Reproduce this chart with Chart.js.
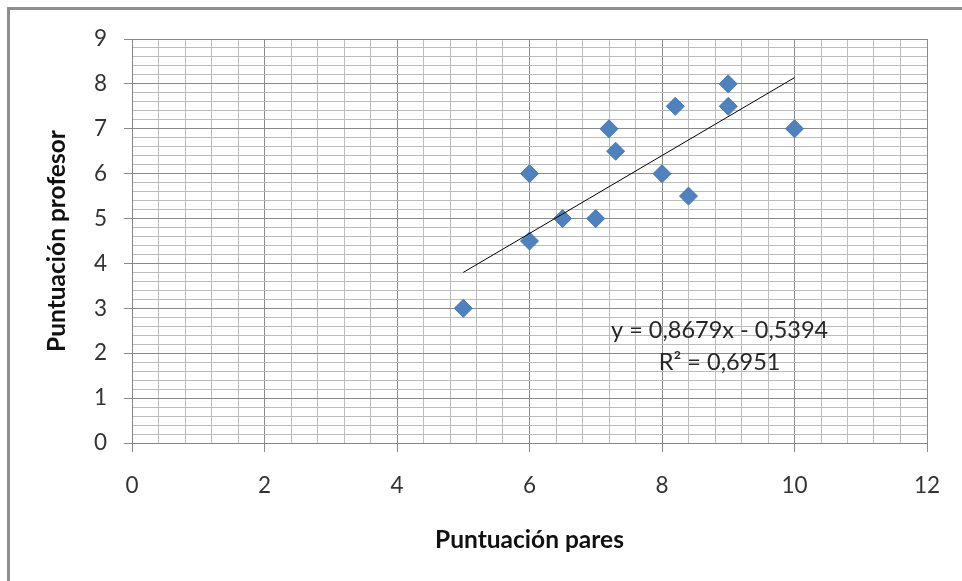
<!DOCTYPE html>
<html lang="es">
<head>
  <meta charset="UTF-8">
  <title>Puntuación profesor vs pares</title>
  <script src="https://cdn.jsdelivr.net/npm/chart.js"></script>
  <style>
    html, body { margin: 0; padding: 0; background: #fff; }
    .chart-box { position: relative; width: 962px; height: 581px; }
    .frame {
      position: absolute; left: 7px; top: 7px; right: 0; bottom: 0;
      border-top: 3px solid #8e8e8e; border-left: 3px solid #8e8e8e;
      pointer-events: none;
    }
  </style>
</head>
<body>
  <div class="chart-box">
    <canvas id="scatterChart"></canvas>
    <div class="frame"></div>
  </div>

  <script>
    // Data
    const paresScores = [5, 6, 6, 6.5, 7, 7.2, 7.3, 8, 8.2, 8.4, 9, 9, 10];
    const profesorScores = [3, 6, 4.5, 5, 5, 7, 6.5, 6, 7.5, 5.5, 8, 7.5, 7];

    // Trend line from the equation printed on the chart
    const trendSlope = 0.8679;
    const trendIntercept = -0.5394;
    const trendRange = [5, 10];
    const trendLabels = ['y = 0,8679x - 0,5394', 'R\u00b2 = 0,6951'];

    const xTicks = { min: 0, max: 12, minor: 0.4, major: 2 };
    const yTicks = { min: 0, max: 9, minor: 0.2, major: 1 };

    const points = paresScores.map((x, i) => ({ x: x, y: profesorScores[i] }));
    const trendPoints = trendRange.map(x => ({ x: x, y: trendSlope * x + trendIntercept }));

    const isMajor = (v, step) => Math.abs(v / step - Math.round(v / step)) < 1e-6;

    const fontFamily = 'Lato, "Open Sans", sans-serif';

    // Draws the equation text inside the plot
    const equationPlugin = {
      id: 'equation',
      afterDatasetsDraw(chart) {
        const { ctx, scales } = chart;
        const cx = scales.x.getPixelForValue(8.87);
        const cy = scales.y.getPixelForValue(2.5);
        ctx.save();
        ctx.font = '23.5px ' + fontFamily;
        ctx.fillStyle = '#262626';
        ctx.textAlign = 'center';
        ctx.textBaseline = 'middle';
        ctx.fillText(trendLabels[0], cx, cy);
        ctx.fillText(trendLabels[1], cx, cy + 32);
        ctx.restore();
      }
    };

    const config = {
      type: 'scatter',
      data: {
        datasets: [
          {
            type: 'line',
            label: 'Tendencia',
            data: trendPoints,
            borderColor: '#000',
            borderWidth: 1,
            pointRadius: 0,
            fill: false,
            order: 0
          },
          {
            label: 'Puntuación',
            data: points,
            pointStyle: 'rectRot',
            pointRadius: 9,
            pointHoverRadius: 9,
            backgroundColor: '#4F81BD',
            borderColor: '#4677b3',
            borderWidth: 1,
            order: 1
          }
        ]
      },
      options: {
        responsive: true,
        maintainAspectRatio: false,
        animation: false,
        layout: { padding: { top: 39, right: 35, left: 0, bottom: 0 } },
        plugins: {
          legend: { display: false },
          tooltip: { enabled: false }
        },
        scales: {
          x: {
            type: 'linear',
            min: xTicks.min,
            max: xTicks.max,
            afterFit: scale => { scale.height = 138; },
            border: { color: '#858585', width: 1 },
            grid: {
              color: ctx => isMajor(ctx.tick.value, xTicks.major) ? '#8a8a8a' : '#bcbcbc',
              tickColor: ctx => isMajor(ctx.tick.value, xTicks.major) ? '#8a8a8a' : 'rgba(0,0,0,0)',
              tickLength: 9
            },
            ticks: {
              stepSize: xTicks.minor,
              maxTicksLimit: 200,
              autoSkip: false,
              maxRotation: 0,
              padding: 20,
              color: '#333',
              font: { family: fontFamily, size: 22.5 },
              callback: v => isMajor(v, xTicks.major) ? String(Math.round(v)) : ''
            },
            title: {
              display: true,
              text: 'Puntuación pares',
              color: '#111',
              font: { family: fontFamily, size: 24.5, weight: 'bold' },
              padding: { top: 0, bottom: 26 }
            }
          },
          y: {
            type: 'linear',
            min: yTicks.min,
            max: yTicks.max,
            afterFit: scale => { scale.width = 132; },
            border: { color: '#858585', width: 1 },
            grid: {
              color: ctx => isMajor(ctx.tick.value, yTicks.major) ? '#8a8a8a' : '#bcbcbc',
              tickColor: ctx => isMajor(ctx.tick.value, yTicks.major) ? '#8a8a8a' : 'rgba(0,0,0,0)',
              tickLength: 8
            },
            ticks: {
              stepSize: yTicks.minor,
              maxTicksLimit: 200,
              autoSkip: false,
              padding: 17,
              color: '#333',
              font: { family: fontFamily, size: 22.5 },
              callback: v => isMajor(v, yTicks.major) ? String(Math.round(v)) : ''
            },
            title: {
              display: true,
              text: 'Puntuación profesor',
              color: '#111',
              font: { family: fontFamily, size: 24.5, weight: 'bold' },
              padding: { top: 42, bottom: 0 }
            }
          }
        }
      },
      plugins: [equationPlugin]
    };

    new Chart(document.getElementById('scatterChart').getContext('2d'), config);
  </script>
</body>
</html>
